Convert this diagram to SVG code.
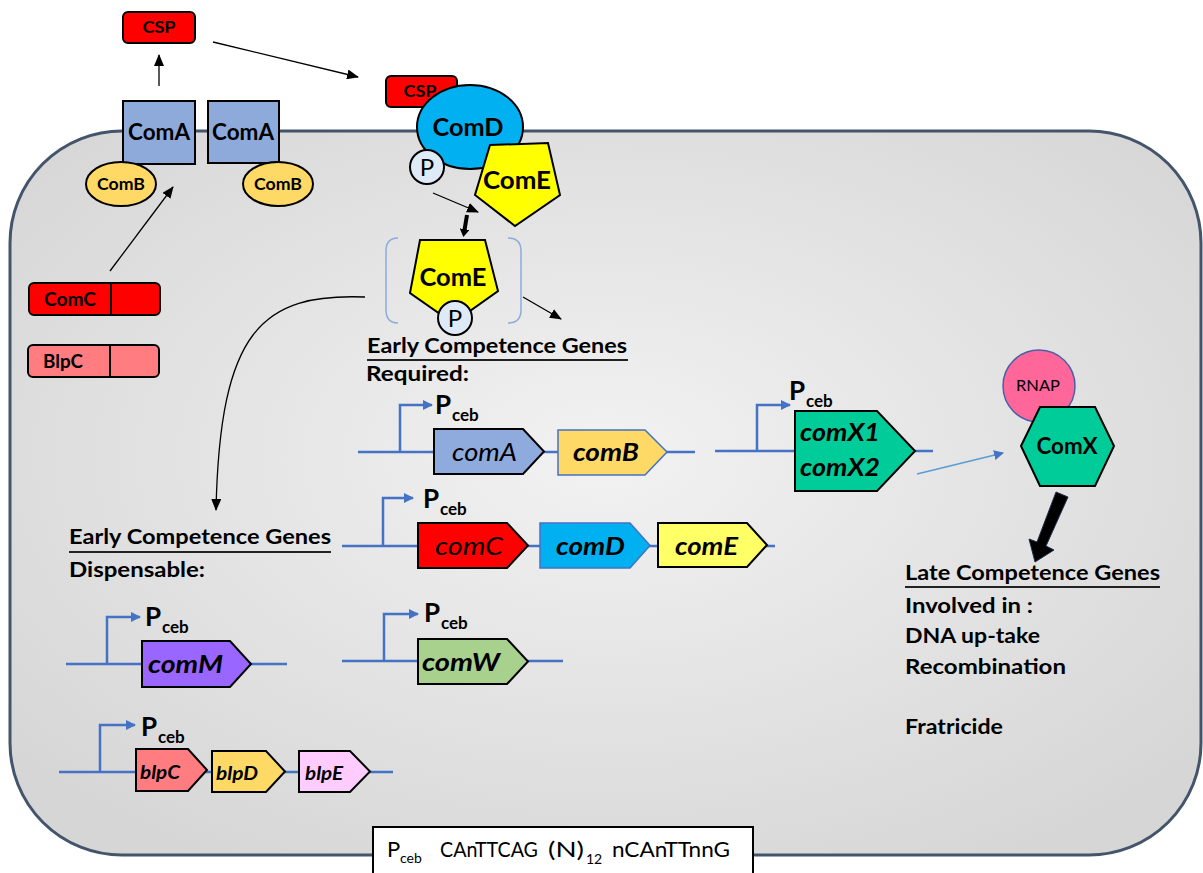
<svg xmlns="http://www.w3.org/2000/svg" width="1203" height="873" viewBox="0 0 1203 873">
<defs>
<radialGradient id="cellg" cx="50%" cy="45%" r="65%">
<stop offset="0" stop-color="#f2f2f2"/>
<stop offset="1" stop-color="#d6d6d6"/>
</radialGradient>
<marker id="ah" markerUnits="userSpaceOnUse" markerWidth="12" markerHeight="10" refX="11" refY="5" orient="auto"><path d="M0,0 L12,5 L0,10 z" fill="#000"/></marker>
<marker id="ahb" markerUnits="userSpaceOnUse" markerWidth="10" markerHeight="10" refX="9" refY="5" orient="auto"><path d="M0,0 L10,5 L0,10 z" fill="#4472c4"/></marker>
<marker id="ahs" markerUnits="userSpaceOnUse" markerWidth="10" markerHeight="10" refX="4" refY="5" orient="auto"><path d="M0,0 L8,5 L0,10 z" fill="#000"/></marker>
<style>
text{font-family:Lato,"Liberation Sans",sans-serif;fill:#000}
.b{font-weight:bold}
.i{font-style:italic}
.ln{stroke:#4472c4;stroke-width:2.5;fill:none}
.pr{stroke:#4472c4;stroke-width:2.5;fill:none;marker-end:url(#ahb)}
.g{stroke:#000;stroke-width:2}
.gb{stroke:#4472c4;stroke-width:1.5}
.k{stroke:#000;stroke-width:1.3;fill:none}
.hd{font-weight:bold;font-size:21px}
.P{font-weight:bold;font-size:26px}
.sb{font-weight:bold;font-size:17px}
</style>
</defs>

<g id="cell">
<rect x="10" y="131" width="1191" height="724" rx="112" ry="112" fill="url(#cellg)" stroke="#44546a" stroke-width="3"/>
</g>

<g id="connectors">
<line x1="159" y1="86" x2="159" y2="55" class="k" marker-end="url(#ah)"/>
<line x1="213" y1="42" x2="358" y2="77" class="k" marker-end="url(#ah)"/>
<line x1="110" y1="271" x2="173" y2="187" class="k" marker-end="url(#ah)"/>
<path d="M365,297 C262,293 220,330 216,510" class="k" marker-end="url(#ah)"/>
<line x1="433" y1="193" x2="478" y2="212" class="k" marker-end="url(#ah)"/>
<line x1="467" y1="215" x2="464" y2="233" stroke="#000" stroke-width="4" marker-end="url(#ahs)"/>
<line x1="523" y1="297" x2="561" y2="319" class="k" marker-end="url(#ah)"/>
<line x1="917" y1="474" x2="1003" y2="453" stroke="#5b9bd5" stroke-width="1.5" marker-end="url(#ahb)"/>
<path d="M1056,492 L1068,497 L1046,546 L1054,550 L1035,562 L1029,539 L1037,542 Z" fill="#000" stroke="#1f2d4d" stroke-width="1"/>
</g>

<g id="csp-top">
<rect x="123" y="12" width="72" height="31" rx="5" fill="#ff0000" class="g"/>
<text x="159" y="33" class="b" font-size="17" text-anchor="middle" textLength="33" lengthAdjust="spacingAndGlyphs">CSP</text>
</g>

<g id="comA-1">
<rect x="123" y="101" width="72" height="63" fill="#8eaadb" class="g"/>
<text x="159" y="140" class="b" font-size="23" text-anchor="middle" textLength="62" lengthAdjust="spacingAndGlyphs">ComA</text>
</g>
<g id="comA-2">
<rect x="208" y="101" width="71" height="62" fill="#8eaadb" class="g"/>
<text x="243" y="140" class="b" font-size="23" text-anchor="middle" textLength="62" lengthAdjust="spacingAndGlyphs">ComA</text>
</g>
<g id="comB-1">
<ellipse cx="121" cy="184" rx="35" ry="22" fill="#ffd966" class="g"/>
<text x="121" y="190" class="b" font-size="17" text-anchor="middle" textLength="48" lengthAdjust="spacingAndGlyphs">ComB</text>
</g>
<g id="comB-2">
<ellipse cx="278" cy="184" rx="35" ry="22" fill="#ffd966" class="g"/>
<text x="278" y="190" class="b" font-size="17" text-anchor="middle" textLength="48" lengthAdjust="spacingAndGlyphs">ComB</text>
</g>

<g id="comC-prot">
<rect x="29" y="283" width="131" height="32" rx="5" fill="#ff0000" class="g"/>
<line x1="111" y1="283" x2="111" y2="315" class="g"/>
<text x="44" y="306" class="b" font-size="19" textLength="52" lengthAdjust="spacingAndGlyphs">ComC</text>
</g>
<g id="blpC-prot">
<rect x="28" y="345" width="131" height="32" rx="5" fill="#ff7c80" class="g"/>
<line x1="110" y1="345" x2="110" y2="377" class="g"/>
<text x="43" y="368" class="b" font-size="19" textLength="40" lengthAdjust="spacingAndGlyphs">BlpC</text>
</g>

<g id="comD">
<rect x="386" y="76" width="71" height="31" rx="5" fill="#ff0000" class="g"/>
<text x="420" y="97" class="b" font-size="17" text-anchor="middle" textLength="33" lengthAdjust="spacingAndGlyphs">CSP</text>
<ellipse cx="470" cy="127" rx="53" ry="42" fill="#00b0f0" class="g"/>
<text x="468" y="136" class="b" font-size="25" text-anchor="middle" textLength="71" lengthAdjust="spacingAndGlyphs">ComD</text>
<circle cx="427" cy="167" r="17" fill="#deebf7" class="g"/>
<text x="427" y="176" font-size="24" text-anchor="middle">P</text>
</g>
<g id="comE-top">
<polygon points="490,145 548,143 560,195 515,226 475,195" fill="#ffff00" class="g"/>
<text x="517" y="189" class="b" font-size="25" text-anchor="middle" textLength="68" lengthAdjust="spacingAndGlyphs">ComE</text>
</g>
<g id="comE-P">
<path d="M398,238 Q386,238 386,251 L386,310 Q386,323 398,323" fill="none" stroke="#8faadc" stroke-width="1.5"/>
<path d="M508,238 Q521,238 521,251 L521,310 Q521,323 508,323" fill="none" stroke="#8faadc" stroke-width="1.5"/>
<polygon points="420,240 485,240 498,291 453,323 410,293" fill="#ffff00" class="g"/>
<text x="453" y="286" class="b" font-size="25" text-anchor="middle" textLength="67" lengthAdjust="spacingAndGlyphs">ComE</text>
<circle cx="455" cy="318" r="17" fill="#deebf7" class="g"/>
<text x="455" y="327" font-size="24" text-anchor="middle">P</text>
</g>

<g id="early-required">
<text x="367" y="353" class="hd" textLength="260" lengthAdjust="spacingAndGlyphs">Early Competence Genes</text>
<line x1="367" y1="360" x2="628" y2="360" stroke="#222" stroke-width="2"/>
<text x="366" y="381" class="hd" textLength="103" lengthAdjust="spacingAndGlyphs">Required:</text>
</g>

<g id="operon-comAB">
<line x1="358" y1="452" x2="695" y2="452" class="ln"/>
<path d="M400,452 V405 H432" class="pr"/>
<text x="435" y="414" class="P">P</text><text x="452" y="421" class="sb">ceb</text>
<polygon points="434,429 523,429 544,451.5 523,474 434,474" fill="#8faadc" class="g"/>
<text x="452" y="461" class="i" font-size="25" textLength="65" lengthAdjust="spacingAndGlyphs">comA</text>
<polygon points="558,430 645,430 667,452 645,475 558,475" fill="#ffd966" class="gb"/>
<text x="573" y="461" class="b i" font-size="25" textLength="66" lengthAdjust="spacingAndGlyphs">comB</text>
</g>

<g id="operon-comCDE">
<line x1="342" y1="546" x2="775" y2="546" class="ln"/>
<path d="M383,546 V498 H413" class="pr"/>
<text x="423" y="508" class="P">P</text><text x="440" y="515" class="sb">ceb</text>
<polygon points="418,523 507,523 528,545.5 507,568 418,568" fill="#ff0000" class="g"/>
<text x="435" y="555" class="i" font-size="25" textLength="68" lengthAdjust="spacingAndGlyphs">comC</text>
<polygon points="540,523 630,523 650,545.5 630,568 540,568" fill="#00b0f0" class="gb"/>
<text x="556" y="555" class="b i" font-size="25" textLength="69" lengthAdjust="spacingAndGlyphs">comD</text>
<polygon points="658,523 747,523 767,545 747,567 658,567" fill="#ffff66" class="g"/>
<text x="675" y="555" class="b i" font-size="25" textLength="63" lengthAdjust="spacingAndGlyphs">comE</text>
</g>

<g id="operon-comX">
<line x1="715" y1="451" x2="933" y2="451" class="ln"/>
<path d="M757,451 V405 H790" class="pr"/>
<text x="789" y="400" class="P">P</text><text x="806" y="407" class="sb">ceb</text>
<polygon points="795,411 877,411 915,451 877,491 795,491" fill="#00cc99" class="g"/>
<text x="800" y="441" class="b i" font-size="25" textLength="80" lengthAdjust="spacingAndGlyphs">comX1</text>
<text x="800" y="476" class="b i" font-size="25" textLength="80" lengthAdjust="spacingAndGlyphs">comX2</text>
</g>

<g id="comX-prot">
<circle cx="1039" cy="386" r="36" fill="#ff6699" stroke="#4a5fa8" stroke-width="1.5"/>
<text x="1038" y="391" font-size="16" text-anchor="middle" textLength="44" lengthAdjust="spacingAndGlyphs">RNAP</text>
<polygon points="1021,446 1040,407 1095,407 1114,446 1095,486 1040,486" fill="#00cc99" class="g"/>
<text x="1067" y="454" class="b" font-size="23" text-anchor="middle" textLength="61" lengthAdjust="spacingAndGlyphs">ComX</text>
</g>

<g id="late-genes">
<text x="905" y="580" class="hd" textLength="255" lengthAdjust="spacingAndGlyphs">Late Competence Genes</text>
<line x1="905" y1="587" x2="1160" y2="587" stroke="#222" stroke-width="2"/>
<text x="905" y="613" class="hd" textLength="128" lengthAdjust="spacingAndGlyphs">Involved in :</text>
<text x="905" y="643" class="hd" textLength="135" lengthAdjust="spacingAndGlyphs">DNA up-take</text>
<text x="905" y="674" class="hd" textLength="161" lengthAdjust="spacingAndGlyphs">Recombination</text>
<text x="905" y="734" class="hd" textLength="98" lengthAdjust="spacingAndGlyphs">Fratricide</text>
</g>

<g id="early-dispensable">
<text x="69" y="544" class="hd" textLength="262" lengthAdjust="spacingAndGlyphs">Early Competence Genes</text>
<line x1="69" y1="552" x2="331" y2="552" stroke="#222" stroke-width="2"/>
<text x="69" y="577" class="hd" textLength="136" lengthAdjust="spacingAndGlyphs">Dispensable:</text>
</g>

<g id="operon-comM">
<line x1="66" y1="664" x2="287" y2="664" class="ln"/>
<path d="M107,664 V617 H140" class="pr"/>
<text x="145" y="626" class="P">P</text><text x="162" y="633" class="sb">ceb</text>
<polygon points="142,641 230,641 251,664 230,687 142,687" fill="#9966ff" class="g"/>
<text x="148" y="673" class="b i" font-size="25" textLength="75" lengthAdjust="spacingAndGlyphs">comM</text>
</g>

<g id="operon-comW">
<line x1="342" y1="661" x2="563" y2="661" class="ln"/>
<path d="M384,661 V614 H418" class="pr"/>
<text x="424" y="622" class="P">P</text><text x="441" y="629" class="sb">ceb</text>
<polygon points="418,639 507,639 528,661.5 507,684 418,684" fill="#a9d18e" class="g"/>
<text x="422" y="671" class="b i" font-size="25" textLength="78" lengthAdjust="spacingAndGlyphs">comW</text>
</g>

<g id="operon-blp">
<line x1="59" y1="772" x2="393" y2="772" class="ln"/>
<path d="M100,772 V725 H135" class="pr"/>
<text x="141" y="736" class="P">P</text><text x="158" y="743" class="sb">ceb</text>
<polygon points="136,749 188,749 207,770 188,791 136,791" fill="#ff7c80" class="g"/>
<text x="140" y="779" class="b i" font-size="18" textLength="40" lengthAdjust="spacingAndGlyphs">blpC</text>
<polygon points="212,751 266,751 285,771.5 266,792 212,792" fill="#ffd966" class="g"/>
<text x="216" y="780" class="b i" font-size="18" textLength="42" lengthAdjust="spacingAndGlyphs">blpD</text>
<polygon points="299,751 350,751 370,771.5 350,792 299,792" fill="#ffccff" class="g"/>
<text x="305" y="780" class="b i" font-size="18" textLength="38" lengthAdjust="spacingAndGlyphs">blpE</text>
</g>

<g id="pceb-box">
<rect x="373" y="827" width="380" height="50" fill="#fff" stroke="#000" stroke-width="2"/>
<text x="387" y="857" font-size="22">P</text><text x="400" y="863" font-size="14">ceb</text>
<text x="440" y="857" font-size="22" textLength="98" lengthAdjust="spacingAndGlyphs">CAnTTCAG</text>
<text x="548" y="857" font-size="22" textLength="36" lengthAdjust="spacingAndGlyphs">(N)</text>
<text x="586" y="864" font-size="14">12</text>
<text x="612" y="857" font-size="22" textLength="118" lengthAdjust="spacingAndGlyphs">nCAnTTnnG</text>
</g>
</svg>
